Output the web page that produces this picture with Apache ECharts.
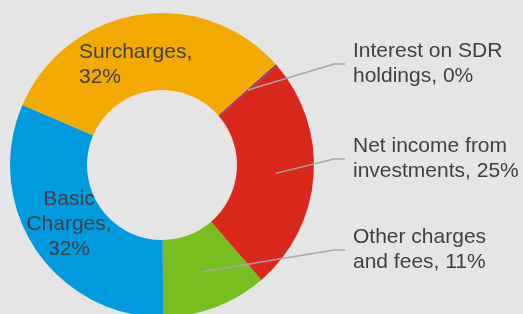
<!DOCTYPE html>
<html>
<head>
<meta charset="utf-8">
<script src="https://cdn.jsdelivr.net/npm/echarts@6/dist/echarts.min.js"></script>
<style>
html, body { margin: 0; padding: 0; background: #e5e5e5; }
#main { width: 523px; height: 314px; }
</style>
</head>
<body>
<div id="main"></div>
<script>
const categories = ['Interest on SDR\nholdings', 'Net income from\ninvestments', 'Other charges\nand fees', 'Basic\nCharges', 'Surcharges']
const shares = [0.2, 25.0, 11.2, 31.6, 32.0]
const colors = ['#7030a0', '#da291c', '#78be20', '#009ade', '#f2aa00']

// label placement: text centre y and leader line y for the callouts on the right
const outsideLabels = {
	0: { y: 59, lineY: 64 },
	1: { y: 155, lineY: 159 },
	2: { y: 249, lineY: 250 }
}
const insideLabels = {
	3: { x: 69, y: 224, align: 'center', width: 100 },
	4: { x: 79, y: 65, align: 'left', width: 130 }
}

const chart = echarts.init(document.getElementById('main'))
const textStyle = {
	color: '#404040',
	fontFamily: '"Liberation Sans", Arial, sans-serif',
	fontSize: 21,
	lineHeight: 25,
	overflow: 'none'
}

const ringData = categories.map((name, i) => ({
	name: name,
	value: shares[i],
	itemStyle: { color: colors[i] },
	label: insideLabels[i]
		? Object.assign({ show: true, position: 'inside', width: insideLabels[i].width }, textStyle)
		: { show: false }
}))

const calloutData = categories.map((name, i) => {
	const pos = outsideLabels[i]
	return {
		name: name,
		value: shares[i],
		label: pos
			? Object.assign({ show: true, width: 200, padding: [0, 0, 2 * (pos.lineY - pos.y), 8] }, textStyle)
			: { show: false },
		labelLine: { show: !!pos }
	}
})

const option = {
	backgroundColor: '#e5e5e5',
	animation: false,
	series: [
		{
			type: 'pie',
			z: 2,
			center: [162, 165],
			radius: [75, 152],
			startAngle: 41.5,
			clockwise: true,
			avoidLabelOverlap: false,
			silent: true,
			emphasis: { disabled: true },
			label: {
				formatter: (p) => p.name + ',\n' + Math.round(p.value) + '%'
			},
			labelLine: { show: false },
			labelLayout: (p) => {
				const pos = insideLabels[p.dataIndex]
				if (!pos) return {}
				return { x: pos.x, y: pos.y, align: pos.align, verticalAlign: 'middle' }
			},
			data: ringData
		},
		{
			// transparent helper ring so leader lines start at mid-ring
			type: 'pie',
			z: 4,
			center: [162, 165],
			radius: [0, 114],
			startAngle: 41.5,
			clockwise: true,
			avoidLabelOverlap: false,
			silent: true,
			emphasis: { disabled: true },
			itemStyle: { color: 'rgba(0,0,0,0)' },
			label: {
				position: 'outside',
				formatter: (p) => p.name + ', ' + Math.round(p.value) + '%'
			},
			labelLine: {
				length: 10,
				length2: 11,
				minTurnAngle: 0,
				lineStyle: { color: '#a6a6a6', width: 1.5 }
			},
			labelLayout: (p) => {
				const pos = outsideLabels[p.dataIndex]
				if (!pos) return {}
				return { x: 345, y: pos.lineY, align: 'left', verticalAlign: 'middle' }
			},
			data: calloutData
		}
	]
}

chart.setOption(option)
</script>
</body>
</html>
